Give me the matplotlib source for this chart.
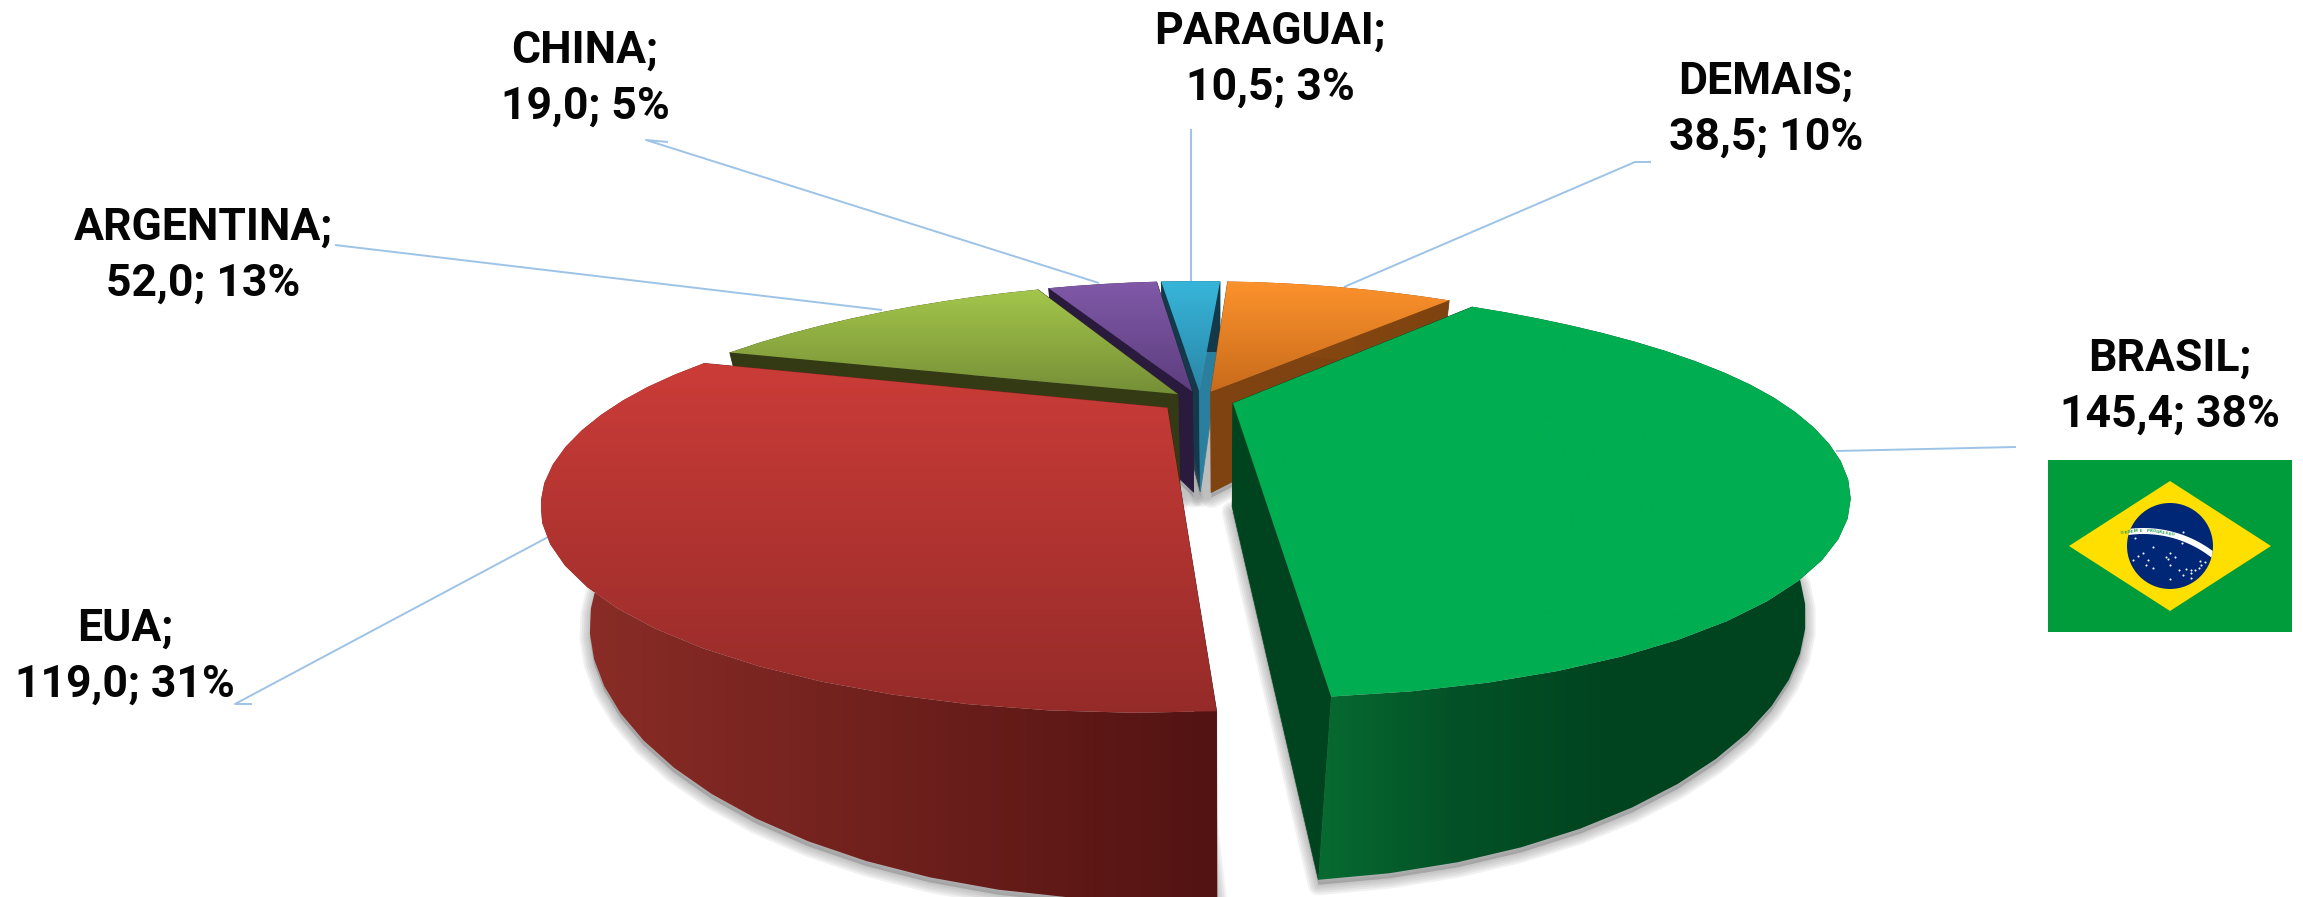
import numpy as np
import matplotlib
matplotlib.use('Agg')
import matplotlib.pyplot as plt
from matplotlib.patches import Polygon, Circle, Rectangle
from matplotlib.colors import LinearSegmentedColormap

# dados do grafico
paises = ['BRASIL', 'EUA', 'ARGENTINA', 'CHINA', 'PARAGUAI', 'DEMAIS']
valores = [145.4, 119.0, 52.0, 19.0, 10.5, 38.5]
percentuais = [38, 31, 13, 5, 3, 10]

# cores: topo (cima, baixo), parede externa (esq -> dir), paredes do corte (inicio, fim)
cor_topo = [('#00AD50', '#00AD50'), ('#CB3C38', '#952B29'), ('#A4C64B', '#758F37'),
            ('#8059A8', '#5D3E7F'), ('#37B6DA', '#2A86A7'), ('#FC922C', '#C96B1C')]
cor_parede = [[(0, '#076B31'), (0.25, '#035227'), (0.55, '#00441F'), (1, '#00441F')],
              [(0, '#8E2E28'), (1, '#521312')],
              [(0, '#333A14'), (1, '#333A14')],
              [(0, '#2A1B3E'), (1, '#2A1B3E')],
              [(0, '#13394A'), (1, '#13394A')],
              [(0, '#8A4A13'), (1, '#7E4310')]]
cor_corte = [('#00441F', '#00441F'), ('#521312', '#7A2420'), ('#333A14', '#333A14'),
             ('#2A1B3E', '#2A1B3E'), ('#13394A', '#2A7F9E'), ('#8A4A13', '#7E4310')]

ordem_desenho = [4, 3, 2, 5, 1, 0]

# posicao dos rotulos (centro, em pixels) e linhas de chamada
pos_rotulo = [(2170, 387), (125, 657), (203, 256), (585, 79), (1270, 60), (1766, 110)]
linhas_chamada = [
    [(2016, 447), (1836, 451)],
    [(252, 704), (235, 704), (550, 536)],
    [(335, 245), (882, 310)],
    [(668, 142), (646, 140), (1099, 283)],
    [(1191, 129), (1191, 282)],
    [(1651, 162), (1635, 162), (1344, 287)],
]

# projecao da pizza
CX, CY = 1200, 400
RX, RY = 545, 164
K = 0.431
K_X = 0.43
K_X2 = 0.12
PROF = 103
VX, VY = 1219, 2300
EXPLODE = [0.063, 0.075, 0.055, 0.055, 0.055, 0.055]
ANG_INICIAL = 39.5
PASSO = 5.0


def topo_xy(u, v):
    w_x = 1 + K_X * v + K_X2 * max(v, 0) ** 2
    return CX + RX * u / w_x, CY - RY * v / (1 + K * v)


def base_xy(u, v):
    x, y = topo_xy(u, v)
    d = PROF / (1 + K * v)
    return x + (VX - x) * d / (VY - y), y + d


def gradiente(ax, pts, paradas, vertical=True, z=2):
    # preenche o poligono com um degrade recortado
    pts = np.array(pts)
    cmap = LinearSegmentedColormap.from_list('g', paradas)
    grad = np.linspace(0, 1, 256)
    grad = grad.reshape(-1, 1) if vertical else grad.reshape(1, -1)
    x0, x1 = pts[:, 0].min(), pts[:, 0].max()
    y0, y1 = pts[:, 1].min(), pts[:, 1].max()
    im = ax.imshow(grad, cmap=cmap, extent=(x0, x1, y1, y0), aspect='auto',
                   origin='upper', zorder=z, interpolation='bilinear')
    patch = Polygon(pts, closed=True, facecolor='none', edgecolor='none', transform=ax.transData)
    ax.add_patch(patch)
    im.set_clip_path(patch)
    return im


fig = plt.figure(figsize=(23.03, 8.97), dpi=100)
ax = fig.add_axes([0, 0, 1, 1])

for linha in linhas_chamada:
    xs, ys = zip(*linha)
    ax.plot(xs, ys, color='#9DC3E6', lw=1.4, zorder=1, solid_capstyle='butt')

total = sum(valores)
inicios = ANG_INICIAL + np.cumsum([0] + valores[:-1]) / total * 360
spans = np.array(valores) / total * 360

z = 2
for i in ordem_desenho:
    a0, span = inicios[i], spans[i]
    meio = np.radians(a0 + span / 2)
    u0, v0 = EXPLODE[i] * np.sin(meio), EXPLODE[i] * np.cos(meio)
    n = max(2, int(np.ceil(span / PASSO)) + 1)
    ang = np.radians(np.linspace(a0, a0 + span, n))
    us = u0 + np.sin(ang)
    vs = v0 + np.cos(ang)

    topo_arco = [topo_xy(u, v) for u, v in zip(us, vs)]
    base_arco = [base_xy(u, v) for u, v in zip(us, vs)]
    apice_t = topo_xy(u0, v0)
    apice_b = base_xy(u0, v0)

    # sombra difusa embaixo da fatia
    sombra = [(x, y + 5) for x, y in [apice_b] + base_arco]
    for lw in [15, 12, 9, 6, 3]:
        ax.add_patch(Polygon(sombra, closed=True, facecolor='#808080', edgecolor='#808080',
                             lw=lw, alpha=0.11, joinstyle='round', zorder=z))
    z += 1

    # paredes do corte
    ax.add_patch(Polygon([apice_t, topo_arco[0], base_arco[0], apice_b], closed=True,
                         facecolor=cor_corte[i][0], edgecolor=cor_corte[i][0], lw=0.5, zorder=z))
    z += 1
    ax.add_patch(Polygon([apice_t, topo_arco[-1], base_arco[-1], apice_b], closed=True,
                         facecolor=cor_corte[i][1], edgecolor=cor_corte[i][1], lw=0.5, zorder=z))
    z += 1

    # parede externa (so a parte da frente aparece)
    gradiente(ax, topo_arco + base_arco[::-1], cor_parede[i], vertical=False, z=z)
    z += 1

    # topo
    gradiente(ax, [apice_t] + topo_arco, list(cor_topo[i]), z=z)
    z += 1

# rotulos
for nome, valor, pct, pos in zip(paises, valores, percentuais, pos_rotulo):
    txt = f'{nome};\n{valor:.1f}; {pct}%'.replace('.', ',')
    ax.text(pos[0], pos[1], txt, ha='center', va='center', fontsize=32, fontweight='bold',
            family='Roboto', color='#050505', linespacing=1.42, zorder=200)

# bandeira do Brasil
ax.add_patch(Rectangle((2048, 460), 244, 172, facecolor='#009B3A', edgecolor='none', zorder=100))
ax.add_patch(Polygon([(2069, 546), (2170, 481), (2271, 546), (2170, 611)], closed=True,
                     facecolor='#FEDF00', edgecolor='none', zorder=101))
disco = Circle((2170, 546), 43, facecolor='#002776', edgecolor='none', zorder=102)
ax.add_patch(disco)

fx, fy, fr = 2143.3, 644.3, 113.3
t = np.radians(np.linspace(-40, 40, 80))
faixa_ext = np.c_[fx + (fr + 3) * np.sin(t), fy - (fr + 3) * np.cos(t)]
faixa_int = np.c_[fx + (fr - 3) * np.sin(t), fy - (fr - 3) * np.cos(t)]
faixa = Polygon(np.r_[faixa_ext, faixa_int[::-1]], closed=True, facecolor='white', edgecolor='none', zorder=103)
ax.add_patch(faixa)
faixa.set_clip_path(disco)

lema = 'ORDEM E PROGRESSO'
angs_lema = np.linspace(-10.5, 15.0, len(lema))
for letra, a in zip(lema, angs_lema):
    r = np.radians(a)
    ax.text(fx + fr * np.sin(r), fy - fr * np.cos(r), letra, fontsize=3.2, color='#1E9A50',
            ha='center', va='center', rotation=-a, family='Roboto', fontweight='bold', zorder=104)

estrelas_x = [405, 460, 430, 415, 400, 443, 438, 458, 510, 497, 524, 503, 509, 536, 548, 558,
              572, 586, 597, 604, 600, 616, 574, 574, 510, 545, 550]
estrelas_y = [685, 712, 730, 738, 750, 750, 765, 775, 728, 740, 740, 748, 765, 780, 795, 778,
              780, 780, 773, 764, 752, 755, 790, 804, 808, 700, 667]
ax.scatter(2000 + np.array(estrelas_x) / 3, 310 + np.array(estrelas_y) / 3, s=2.2, color='white',
           linewidths=0, zorder=105)

ax.set_xlim(0, 2303)
ax.set_ylim(897, 0)
ax.axis('off')
fig.savefig('out.png', dpi=100, facecolor='white')
